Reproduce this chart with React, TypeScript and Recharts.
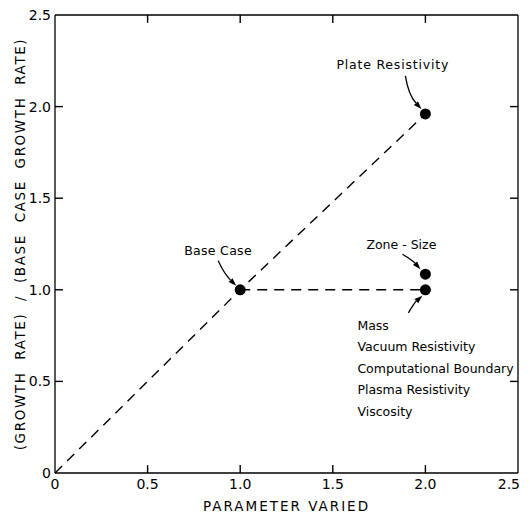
import { ScatterChart, Scatter, XAxis, YAxis, ReferenceLine } from "recharts";

const xTicks = [0, 0.5, 1.0, 1.5, 2.0, 2.5];
const yTicks = [0, 0.5, 1.0, 1.5, 2.0, 2.5];
const xTickLabels = ["0", "0.5", "1.0", "1.5", "2.0", "2.5"];
const yTickLabels = ["0", "0.5", "1.0", "1.5", "2.0", "2.5"];

// dashed guide lines
const diagonalLine = [
  { x: 0, y: 0 },
  { x: 1.0, y: 1.0 },
  { x: 2.0, y: 1.96 },
];
const flatLine = [
  { x: 1.0, y: 1.0 },
  { x: 2.0, y: 1.0 },
];

// labelled cases
const cases = [
  { x: 1.0, y: 1.0, label: ["Base Case"] },
  { x: 2.0, y: 1.96, label: ["Plate Resistivity"] },
  { x: 2.0, y: 1.085, label: ["Zone - Size"] },
  {
    x: 2.0,
    y: 1.0,
    label: [
      "Mass",
      "Vacuum Resistivity",
      "Computational Boundary",
      "Plasma Resistivity",
      "Viscosity",
    ],
  },
];

// pixel offsets of labels and arrows relative to each point
const annotationStyle: Record<
  string,
  { tx: number; ty: number; ls: number; from: number[]; ctrl: number[]; to: number[] }
> = {
  "Base Case": { tx: -56, ty: -35, ls: 0.3, from: [-22, -29], ctrl: [-16, -16], to: [-4, -4] },
  "Plate Resistivity": { tx: -89, ty: -45, ls: 0.8, from: [-20, -38], ctrl: [-17, -19], to: [-4, -5] },
  "Zone - Size": { tx: -59, ty: -25, ls: 0, from: [-23, -20], ctrl: [-13, -14], to: [-5, -5] },
  Mass: { tx: -68, ty: 40, ls: 0, from: [-17, 23], ctrl: [-11, 13], to: [-3, 6] },
};

const FONT = "'DejaVu Sans', sans-serif";
const X_MIN = 0;
const X_MAX = 2.5;
const Y_MIN = 0;
const Y_MAX = 2.5;
// inward tick length, in axis units (about 8px)
const TICK_LEN = 0.043;

function Arrow({ x, y, s }: { x: number; y: number; s: { from: number[]; ctrl: number[]; to: number[] } }) {
  const [fx, fy] = s.from;
  const [cx, cy] = s.ctrl;
  const [ex, ey] = s.to;
  const dx = ex - cx;
  const dy = ey - cy;
  const len = Math.hypot(dx, dy) || 1;
  const ux = dx / len;
  const uy = dy / len;
  const hl = 8;
  const hw = 2.8;
  const bx = x + ex - ux * hl;
  const by = y + ey - uy * hl;
  return (
    <g>
      <path
        d={`M${x + fx},${y + fy} Q${x + cx},${y + cy} ${bx},${by}`}
        fill="none"
        stroke="#000"
        strokeWidth={1.3}
      />
      <polygon
        points={`${x + ex},${y + ey} ${bx - uy * hw},${by + ux * hw} ${bx + uy * hw},${by - ux * hw}`}
        fill="#000"
      />
    </g>
  );
}

function CasePoint(props: any) {
  const { cx, cy, payload } = props;
  if (cx == null || cy == null) return null;
  const lines: string[] = payload.label;
  const s = annotationStyle[lines[0]];
  return (
    <g>
      <circle cx={cx} cy={cy} r={5.5} fill="#000" />
      {s && <Arrow x={cx} y={cy} s={s} />}
      {s &&
        lines.map((t, i) => (
          <text
            key={t}
            x={cx + s.tx}
            y={cy + s.ty + i * 21.5}
            fontSize={12.5}
            fontFamily={FONT}
            letterSpacing={s.ls}
            fill="#000"
            style={{ whiteSpace: "pre" }}
          >
            {t}
          </text>
        ))}
    </g>
  );
}

function BottomTick(props: any) {
  const { x, y, index } = props;
  const last = index === 5;
  return (
    <text
      x={last ? x + 2 : x}
      y={y + 16}
      textAnchor={last ? "end" : "middle"}
      fontSize={14}
      fontFamily={FONT}
      fill="#000"
    >
      {xTickLabels[index]}
    </text>
  );
}

function LeftTick(props: any) {
  const { x, y, index } = props;
  return (
    <text x={x - 4} y={y + 5} textAnchor="end" fontSize={14} fontFamily={FONT} fill="#000">
      {yTickLabels[index]}
    </text>
  );
}

const axisLine = { stroke: "#000", strokeWidth: 1.3 };
const dashed = { stroke: "#000", strokeWidth: 1.4, strokeDasharray: "10 7" };

const innerX = xTicks.slice(1, -1);
const innerY = yTicks.slice(1, -1);
const tickSegments = [
  ...innerX.map((x) => [{ x, y: Y_MIN }, { x, y: Y_MIN + TICK_LEN }]),
  ...innerX.map((x) => [{ x, y: Y_MAX }, { x, y: Y_MAX - TICK_LEN }]),
  ...innerY.map((y) => [{ x: X_MIN, y }, { x: X_MIN + TICK_LEN, y }]),
  ...innerY.map((y) => [{ x: X_MAX, y }, { x: X_MAX - TICK_LEN, y }]),
];

export default function App() {
  return (
    <div style={{ width: 522, height: 511, background: "#fff" }}>
      <ScatterChart width={522} height={511} margin={{ top: 6, right: 11, bottom: 0, left: 0 }}>
        <XAxis
          xAxisId="bottom"
          type="number"
          dataKey="x"
          domain={[X_MIN, X_MAX]}
          ticks={xTicks}
          interval={0}
          height={46}
          axisLine={axisLine}
          tickLine={false}
          tickSize={0}
          tickMargin={0}
          tick={<BottomTick />}
          label={{
            content: ({ viewBox }: any) => (
              <text
                x={viewBox.x + viewBox.width / 2}
                y={viewBox.y + 38}
                textAnchor="middle"
                fontSize={13.5}
                fontFamily={FONT}
                letterSpacing={2}
                fill="#000"
              >
                PARAMETER  VARIED
              </text>
            ),
          }}
        />
        <XAxis
          xAxisId="top"
          orientation="top"
          type="number"
          dataKey="x"
          domain={[X_MIN, X_MAX]}
          ticks={xTicks}
          height={1}
          axisLine={axisLine}
          tickLine={false}
          tick={false}
        />
        <YAxis
          yAxisId="left"
          type="number"
          dataKey="y"
          domain={[Y_MIN, Y_MAX]}
          ticks={yTicks}
          interval={0}
          width={47}
          axisLine={axisLine}
          tickLine={false}
          tickSize={0}
          tickMargin={0}
          tick={<LeftTick />}
          label={{
            content: ({ viewBox }: any) => {
              const cx = viewBox.x + 12;
              const cy = viewBox.y + viewBox.height / 2;
              return (
                <text
                  x={cx}
                  y={cy}
                  transform={`rotate(-90 ${cx} ${cy})`}
                  textAnchor="middle"
                  dominantBaseline="central"
                  fontSize={13.5}
                  fontFamily={FONT}
                  letterSpacing={1.6}
                  fill="#000"
                  style={{ whiteSpace: "pre" }}
                >
                  (GROWTH  RATE)  /  (BASE  CASE  GROWTH  RATE)
                </text>
              );
            },
          }}
        />
        <YAxis
          yAxisId="right"
          orientation="right"
          type="number"
          dataKey="y"
          domain={[Y_MIN, Y_MAX]}
          ticks={yTicks}
          width={1}
          axisLine={axisLine}
          tickLine={false}
          tick={false}
        />
        {tickSegments.map((seg, i) => (
          <ReferenceLine
            key={`tick-${i}`}
            xAxisId="bottom"
            yAxisId="left"
            segment={seg}
            stroke="#000"
            strokeWidth={1.4}
            ifOverflow="visible"
          />
        ))}
        <Scatter
          xAxisId="bottom"
          yAxisId="left"
          data={diagonalLine}
          line={dashed}
          lineType="joint"
          shape={() => <g />}
          isAnimationActive={false}
        />
        <Scatter
          xAxisId="top"
          yAxisId="right"
          data={flatLine}
          line={dashed}
          lineType="joint"
          shape={() => <g />}
          isAnimationActive={false}
        />
        <Scatter
          xAxisId="bottom"
          yAxisId="left"
          data={cases}
          shape={<CasePoint />}
          isAnimationActive={false}
        />
      </ScatterChart>
    </div>
  );
}
